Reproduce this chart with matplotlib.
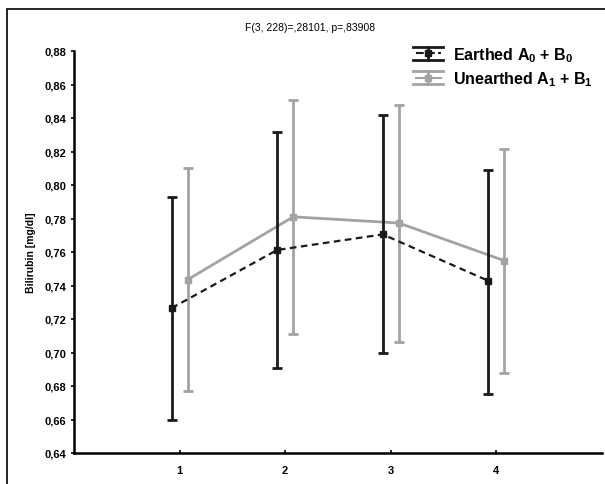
import matplotlib
matplotlib.use("Agg")
import matplotlib.pyplot as plt
from matplotlib.lines import Line2D
from matplotlib.patches import Rectangle
from matplotlib.legend_handler import HandlerBase
import numpy as np

plt.rcParams['font.family'] = ['Liberation Sans', 'DejaVu Sans']
plt.rcParams['mathtext.fontset'] = 'custom'
plt.rcParams['mathtext.rm'] = 'Liberation Sans:bold'
plt.rcParams['mathtext.bf'] = 'Liberation Sans:bold'

# data
groups = [1, 2, 3, 4]
earthed_mean = [0.7265, 0.7612, 0.7705, 0.7428]
earthed_low = [0.660, 0.691, 0.700, 0.675]
earthed_high = [0.793, 0.8315, 0.8418, 0.809]
unearthed_mean = [0.7435, 0.781, 0.7773, 0.7548]
unearthed_low = [0.677, 0.711, 0.706, 0.688]
unearthed_high = [0.810, 0.851, 0.848, 0.8215]
yticks = [0.64, 0.66, 0.68, 0.70, 0.72, 0.74, 0.76, 0.78, 0.80, 0.82, 0.84, 0.86, 0.88]

BLACK = '#1a1a1a'
GRAY = '#a3a3a3'


class ErrHandler(HandlerBase):
    # legend key: caps on top and bottom, bar + marker in the middle
    def create_artists(self, legend, orig, xd, yd, w, h, fs, trans):
        c = orig.get_color()
        x0, x1 = -xd, -xd + w
        xm = (x0 + x1) / 2
        ym = -yd + h / 2
        top, bot = ym + h * 0.6, ym - h * 0.6
        arts = [
            Line2D([x0, x1], [top, top], color=c, lw=2),
            Line2D([x0, x1], [bot, bot], color=c, lw=2),
            Line2D([xm, xm], [bot, top], color=c, lw=2),
            Line2D([x0 + 2, x1 - 2], [ym, ym], color=c, lw=1.5, ls=orig.get_linestyle()),
            Line2D([xm], [ym], color=c, marker='s', ms=4, ls='none'),
        ]
        for a in arts:
            a.set_transform(trans)
        return arts


fig = plt.figure(figsize=(6.05, 4.85), dpi=100)
fig.add_artist(Rectangle((7 / 605, -0.1), 1.0, 1 - 10 / 485 + 0.1,
                         transform=fig.transFigure, fill=False,
                         edgecolor='black', lw=1.2))

ax = fig.add_axes([74 / 605, 31 / 485, 528 / 605, 402 / 485])

xe = np.array(groups) - 0.076
xu = np.array(groups) + 0.076
em = np.array(earthed_mean)
um = np.array(unearthed_mean)
e_err = [em - np.array(earthed_low), np.array(earthed_high) - em]
u_err = [um - np.array(unearthed_low), np.array(unearthed_high) - um]

ax.errorbar(xu, um, yerr=u_err, color=GRAY, lw=2, elinewidth=2,
            capsize=3.6, capthick=2, marker='s', ms=4, zorder=2)
ax.errorbar(xe, em, yerr=e_err, color=BLACK, lw=1.6, ls=(0, (3, 2)),
            elinewidth=2, capsize=3.6, capthick=2, marker='s', ms=4, zorder=3)

ax.set_xlim(0, 5)
ax.set_ylim(0.64, 0.88)
ax.set_xticks(groups)
ax.set_xticklabels([str(g) for g in groups])
ax.set_yticks(yticks)
ax.set_yticklabels([f"{v:.2f}".replace('.', ',') for v in yticks])
for lab in ax.get_xticklabels() + ax.get_yticklabels():
    lab.set_fontweight('bold')
    lab.set_fontsize(8)
ax.tick_params(axis='y', direction='out', length=2.5, width=1.2, pad=3)
ax.tick_params(axis='x', direction='in', length=2.5, width=1.2, pad=9)

for s in ['top', 'right']:
    ax.spines[s].set_visible(False)
for s in ['left', 'bottom']:
    ax.spines[s].set_linewidth(1.8)

ax.set_ylabel('Bilirubin [mg/dl]', fontsize=7.5, fontweight='bold', labelpad=6)
fig.text(310 / 605, 1 - 28 / 485, 'F(3, 228)=,28101, p=,83908',
         fontsize=7.5, ha='center', va='center')

h1 = Line2D([], [], color=BLACK, ls=(0, (3, 2)))
h2 = Line2D([], [], color=GRAY, ls='-')
fig.legend([h1, h2],
           [r'Earthed A$_0$ + B$_0$', r'Unearthed A$_1$ + B$_1$'],
           handler_map={Line2D: ErrHandler()},
           loc='upper left', bbox_to_anchor=(413 / 605, 1 - 46 / 485),
           frameon=False, borderpad=0, borderaxespad=0,
           handlelength=1.9, handletextpad=0.6, labelspacing=0.35,
           prop={'size': 11.5, 'weight': 'bold'})

fig.savefig('out.png', dpi=100)
